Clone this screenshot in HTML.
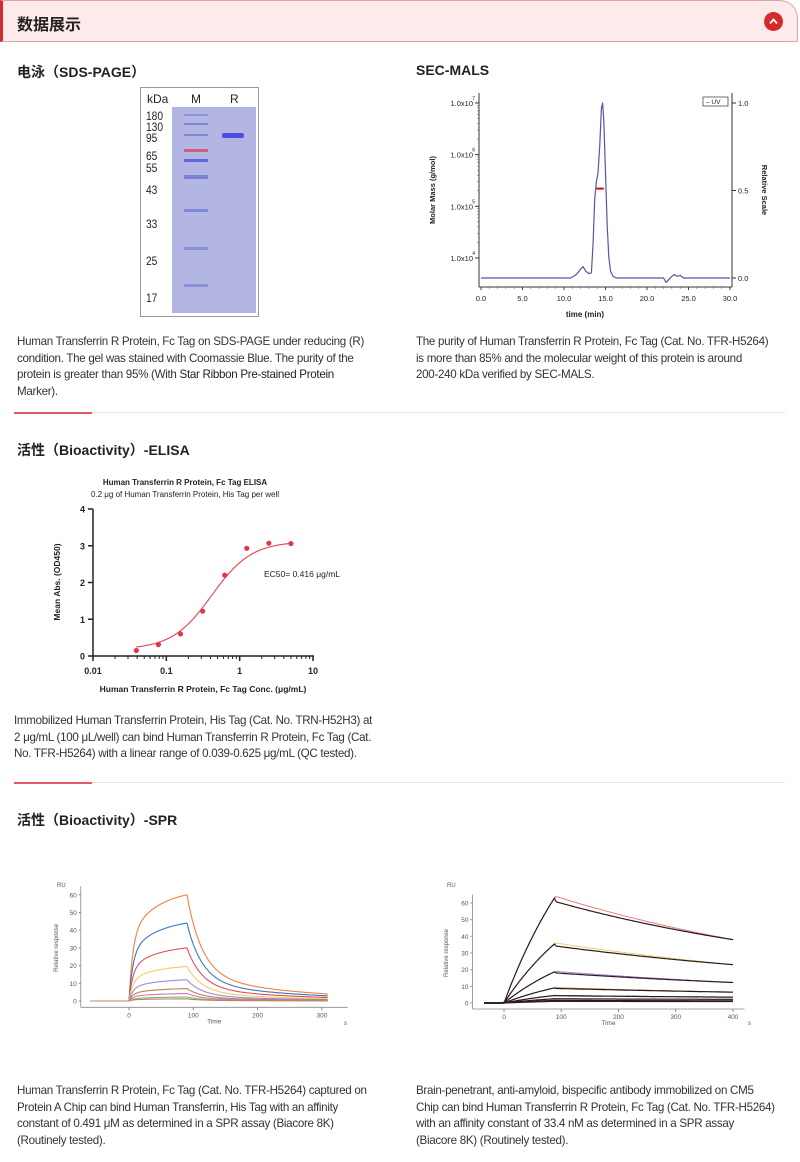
<!DOCTYPE html>
<html><head><meta charset="utf-8">
<style>
*{margin:0;padding:0;box-sizing:border-box}
body{width:800px;height:1162px;background:#fff;position:relative;overflow:hidden;font-family:"Liberation Sans","Noto Sans CJK SC",sans-serif;color:#333}
.abs{position:absolute}
.h2{position:absolute;font-size:14px;font-weight:bold;color:#222;white-space:nowrap}
.txt{position:absolute;font-size:11.6px;line-height:16.5px;color:#333;white-space:nowrap;letter-spacing:-0.3px}
.div{position:absolute;left:14px;width:771px;height:1px;background:#e4e4e4}
.div span{position:absolute;left:0;top:-0.5px;width:78px;height:2px;background:#e05a6a}
svg text{font-family:"Liberation Sans",sans-serif}
</style></head><body>

<div class="abs" style="left:0;top:0;width:798px;height:42px;background:#fdeaea;border-left:3px solid #d42c2c;border-bottom:1px solid #e3a3a3;border-right:1px solid #e3a3a3;border-top:1px solid #e3a3a3;border-top-right-radius:18px"></div>
<div class="abs" style="left:17px;top:11px;font-size:16px;font-weight:bold;color:#222">数据展示</div>
<div class="abs" style="left:764px;top:12px;width:19px;height:19px;border-radius:50%;background:#d62a2a">
<svg width="19" height="19" style="position:absolute;left:0;top:0"><polyline points="6,11.5 9.5,7.5 13,11.5" fill="none" stroke="#fff" stroke-width="1.8"/></svg></div>

<div class="h2" style="left:17px;top:62px">电泳（SDS-PAGE）</div>
<div class="h2" style="left:416px;top:62px">SEC-MALS</div>

<!-- Gel -->
<div class="abs" style="left:140px;top:87px;width:119px;height:230px;border:1px solid #999;background:#fff">
 <div class="abs" style="left:31px;top:19px;width:84px;height:206px;background:#b3b5e2"></div>
 <div class="abs" style="left:6px;top:4px;font-size:12px;color:#222">kDa</div>
 <div class="abs" style="left:50px;top:4px;font-size:12px;color:#222">M</div>
 <div class="abs" style="left:89px;top:4px;font-size:12px;color:#222">R</div>
 <div class="abs" style="left:5px;top:23px;font-size:12px;line-height:11px;color:#222;transform:scaleX(0.85);transform-origin:left">180<br>130<br>95</div>
 <div class="abs" style="left:5px;top:62px;font-size:12px;line-height:12px;color:#222;transform:scaleX(0.85);transform-origin:left">65<br>55</div>
 <div class="abs" style="left:5px;top:95px;font-size:12px;color:#222;transform:scaleX(0.85);transform-origin:left">43</div>
 <div class="abs" style="left:5px;top:129px;font-size:12px;color:#222;transform:scaleX(0.85);transform-origin:left">33</div>
 <div class="abs" style="left:5px;top:166px;font-size:12px;color:#222;transform:scaleX(0.85);transform-origin:left">25</div>
 <div class="abs" style="left:5px;top:203px;font-size:12px;color:#222;transform:scaleX(0.85);transform-origin:left">17</div>
 <div class="abs" style="left:43px;top:26px;width:24px;height:2px;background:#8f94d8"></div>
 <div class="abs" style="left:43px;top:35px;width:24px;height:2px;background:#7f85d6"></div>
 <div class="abs" style="left:43px;top:46px;width:24px;height:2px;background:#8087d8"></div>
 <div class="abs" style="left:43px;top:61px;width:24px;height:3px;background:#d0607a"></div>
 <div class="abs" style="left:43px;top:71px;width:24px;height:3px;background:#5f66d8"></div>
 <div class="abs" style="left:43px;top:87px;width:24px;height:4px;background:#7a80d8"></div>
 <div class="abs" style="left:43px;top:121px;width:24px;height:3px;background:#8087d8"></div>
 <div class="abs" style="left:43px;top:159px;width:24px;height:3px;background:#8a90d8"></div>
 <div class="abs" style="left:43px;top:196px;width:24px;height:3px;background:#8a90d8"></div>
 <div class="abs" style="left:81px;top:45px;width:22px;height:5px;border-radius:2px;background:#4a4fe0"></div>
</div>

<svg class="abs" style="left:420px;top:85px" width="360" height="240" id="sec"></svg>

<div class="txt" style="left:17px;top:334px">Human Transferrin R Protein, Fc Tag on SDS-PAGE under reducing (R)<br>condition. The gel was stained with Coomassie Blue. The purity of the<br>protein is greater than 95% (With <span style="color:#222">Star Ribbon Pre-stained Protein</span><br>Marker).</div>
<div class="txt" style="left:416px;top:334px">The purity of Human Transferrin R Protein, Fc Tag (Cat. No. TFR-H5264)<br>is more than 85% and the molecular weight of this protein is around<br>200-240 kDa verified by SEC-MALS.</div>

<div class="div" style="top:412px"><span></span></div>
<div class="h2" style="left:17px;top:440px">活性（Bioactivity）-ELISA</div>

<svg class="abs" style="left:40px;top:470px" width="320" height="230" id="elisa"></svg>

<div class="txt" style="left:14px;top:713px">Immobilized Human Transferrin Protein, His Tag (Cat. No. TRN-H52H3) at<br>2 μg/mL (100 μL/well) can bind Human Transferrin R Protein, Fc Tag (Cat.<br>No. TFR-H5264) with a linear range of 0.039-0.625 μg/mL (QC tested).</div>

<div class="div" style="top:782px"><span></span></div>
<div class="h2" style="left:17px;top:810px">活性（Bioactivity）-SPR</div>

<svg class="abs" style="left:50px;top:870px" width="310" height="165" id="spr1"></svg>
<svg class="abs" style="left:440px;top:870px" width="320" height="165" id="spr2"></svg>

<div class="txt" style="left:17px;top:1083px">Human Transferrin R Protein, Fc Tag (Cat. No. TFR-H5264) captured on<br>Protein A Chip can bind Human Transferrin, His Tag with an affinity<br>constant of 0.491 μM as determined in a SPR assay (Biacore 8K)<br>(Routinely tested).</div>
<div class="txt" style="left:416px;top:1083px">Brain-penetrant, anti-amyloid, bispecific antibody immobilized on CM5<br>Chip can bind Human Transferrin R Protein, Fc Tag (Cat. No. TFR-H5264)<br>with an affinity constant of 33.4 nM as determined in a SPR assay<br>(Biacore 8K) (Routinely tested).</div>

<script>
// ---------- SEC-MALS data ----------
const secTimes=[0,10.8,11.5,12.0,12.3,12.6,13.0,13.3,13.5,13.7,13.9,14.1,14.3,14.5,14.65,14.8,15.0,15.2,15.4,15.6,15.9,16.3,22.0,22.3,22.6,23.0,23.3,23.6,24.0,24.4,30];
const secUV=[0,0,0.02,0.05,0.065,0.04,0.025,0.03,0.2,0.45,0.55,0.6,0.75,0.97,1.0,0.9,0.6,0.3,0.12,0.04,0.01,0,0,-0.025,-0.01,0.01,0.02,0.01,0.015,0,0];
const secMassTimes=[13.9,14.8];
const secMass=[2.2e5,2.2e5];
const secXTicks=[0,5,10,15,20,25,30];
const secYRight=[0,0.5,1.0];
const secYLeftExp=[4,5,6,7];

const NS='http://www.w3.org/2000/svg';
function el(p,tag,attrs,text){const e=document.createElementNS(NS,tag);for(const k in attrs)e.setAttribute(k,attrs[k]);if(text!==undefined)e.textContent=text;p.appendChild(e);return e;}

(function(){
 const s=document.getElementById('sec');
 const x=t=>61+t*(249/30), yR=v=>193-v*175, yL=m=>173-(Math.log10(m)-4)*51.7;
 el(s,'line',{x1:59,y1:8,x2:59,y2:202,stroke:'#333','stroke-width':1});
 el(s,'line',{x1:312,y1:8,x2:312,y2:202,stroke:'#333','stroke-width':1});
 el(s,'line',{x1:59,y1:202,x2:312,y2:202,stroke:'#333','stroke-width':1});
 secXTicks.forEach(t=>{el(s,'line',{x1:x(t),y1:202,x2:x(t),y2:205,stroke:'#333'});
  const tx=el(s,'text',{x:x(t),y:216,'font-size':7.5,'text-anchor':'middle',fill:'#222'},t.toFixed(1));});
 for(let t=0;t<=30;t+=1){el(s,'line',{x1:x(t),y1:202,x2:x(t),y2:204,stroke:'#555','stroke-width':0.5});}
 secYRight.forEach(v=>{el(s,'line',{x1:312,y1:yR(v),x2:316,y2:yR(v),stroke:'#333'});
  el(s,'text',{x:318,y:yR(v)+3,'font-size':7.5,fill:'#222'},v.toFixed(1));});
 secYLeftExp.forEach(e=>{const yy=yL(Math.pow(10,e));el(s,'line',{x1:55,y1:yy,x2:59,y2:yy,stroke:'#333'});
  el(s,'text',{x:53,y:yy+3,'font-size':7.5,'text-anchor':'end',fill:'#222'},'1.0x10');
  el(s,'text',{x:55,y:yy-3,'font-size':5,'text-anchor':'end',fill:'#222'},e);});
 for(let e=4;e<7;e++)for(let k=2;k<10;k++){const yy=yL(k*Math.pow(10,e));el(s,'line',{x1:57,y1:yy,x2:59,y2:yy,stroke:'#555','stroke-width':0.5});}
 el(s,'text',{x:165,y:232,'font-size':8,'font-weight':'bold','text-anchor':'middle',fill:'#222'},'time (min)');
 el(s,'text',{x:0,y:0,'font-size':7.5,'font-weight':'bold','text-anchor':'middle',fill:'#222',transform:'translate(15,105) rotate(-90)'},'Molar Mass (g/mol)');
 el(s,'text',{x:0,y:0,'font-size':7.5,'font-weight':'bold','text-anchor':'middle',fill:'#222',transform:'translate(342,105) rotate(90)'},'Relative Scale');
 el(s,'rect',{x:283,y:12,width:25,height:9,fill:'#fff',stroke:'#333','stroke-width':0.7});
 el(s,'text',{x:286,y:19,'font-size':6.5,fill:'#222'},'– UV');
 let d=secTimes.map((t,i)=>(i?'L':'M')+x(t).toFixed(1)+' '+yR(secUV[i]).toFixed(1)).join(' ');
 const p=el(s,'path',{d:d,fill:'none',stroke:'#5555a8','stroke-width':1.2,'stroke-linejoin':'round'});
 
 const m=el(s,'line',{x1:x(secMassTimes[0]),y1:yL(secMass[0]),x2:x(secMassTimes[1]),y2:yL(secMass[1]),stroke:'#d01010','stroke-width':2});
 
})();

// ---------- ELISA data ----------
const elisaConc=[0.039,0.078,0.156,0.3125,0.625,1.25,2.5,5];
const elisaOD=[0.15,0.31,0.6,1.22,2.2,2.93,3.07,3.06];
const elisaFit={bottom:0.18,top:3.12,ec50:0.416,hill:1.6};
const elisaXTicks=[0.01,0.1,1,10];
const elisaXLabels=['0.01','0.1','1','10'];
const elisaYTicks=[0,1,2,3,4];

(function(){
 const s=document.getElementById('elisa');
 const x=c=>53+(Math.log10(c)+2)*(220/3), y=v=>186-v*36.75;
 el(s,'text',{x:145,y:15,'font-size':8,'font-weight':'bold','text-anchor':'middle',fill:'#222'},'Human Transferrin R Protein, Fc Tag ELISA');
 el(s,'text',{x:145,y:27,'font-size':8,'text-anchor':'middle',fill:'#222'},'0.2 μg of Human Transferrin Protein, His Tag per well');
 el(s,'line',{x1:53,y1:39,x2:53,y2:187,stroke:'#222','stroke-width':1.5});
 el(s,'line',{x1:52,y1:186,x2:274,y2:186,stroke:'#222','stroke-width':1.5});
 elisaYTicks.forEach(v=>{el(s,'line',{x1:48,y1:y(v),x2:53,y2:y(v),stroke:'#222','stroke-width':1.5});
  el(s,'text',{x:45,y:y(v)+3.5,'font-size':9,'font-weight':'bold','text-anchor':'end',fill:'#222'},v);});
 elisaXTicks.forEach((c,i)=>{el(s,'line',{x1:x(c),y1:186,x2:x(c),y2:191,stroke:'#222','stroke-width':1.5});
  el(s,'text',{x:x(c),y:204,'font-size':9,'font-weight':'bold','text-anchor':'middle',fill:'#222'},elisaXLabels[i]);
  if(i<3)for(let k=2;k<10;k++){el(s,'line',{x1:x(c*k),y1:186,x2:x(c*k),y2:189,stroke:'#222'});}});
 el(s,'text',{x:163,y:222,'font-size':8.5,'font-weight':'bold','text-anchor':'middle',fill:'#222'},'Human Transferrin R Protein, Fc Tag Conc. (μg/mL)');
 el(s,'text',{x:0,y:0,'font-size':8.5,'font-weight':'bold','text-anchor':'middle',fill:'#222',transform:'translate(20,112) rotate(-90)'},'Mean Abs. (OD450)');
 el(s,'text',{x:224,y:107,'font-size':8.5,fill:'#222'},'EC50= 0.416 μg/mL');
 const f=elisaFit;let pts=[];
 for(let lc=Math.log10(0.039);lc<=Math.log10(5.01);lc+=0.02){const c=Math.pow(10,lc);const v=f.bottom+(f.top-f.bottom)/(1+Math.pow(f.ec50/c,f.hill));pts.push(x(c).toFixed(1)+','+y(v).toFixed(1));}
 const pl=el(s,'polyline',{points:pts.join(' '),fill:'none',stroke:'#e05060','stroke-width':1.2});
 
 elisaConc.forEach((c,i)=>{const p=el(s,'circle',{cx:x(c),cy:y(elisaOD[i]),r:2.6,fill:'#e03848'});
  });
})();

// ---------- SPR left data ----------
const spr1Rmax=[60,44,30,19.5,12,7,4.2,2.2,1.2];
const spr1Colors=['#f08040','#3a78c0','#e05058','#f0d060','#9b8ad8','#b08848','#e070c8','#70c070','#c08060'];
const spr1XTicks=[0,100,200,300];
const spr1YTicks=[0,10,20,30,40,50,60];
// ---------- SPR right data ----------
const spr2Peak=[64,36,19,9.2,4.6,2.6,1.6,1.0];
const spr2End=[38,23,12.3,6.5,3.5,2.2,1.3,0.9];
const spr2Colors=['#e87070','#e0d060','#a080d0','#c09050','#7070d0','#50a050','#c07040','#909090'];
const spr2XTicks=[0,100,200,300,400];
const spr2YTicks=[0,10,20,30,40,50,60];

function sprAxes(s,x,y,xt,yt,xmin,xmax,ylab,rulab,slab){
 el(s,'line',{x1:x(xmin),y1:y(-3)+1,x2:x(xmin),y2:y(62)-5,stroke:'#888','stroke-width':0.8});
 el(s,'line',{x1:x(xmin),y1:y(-3)+1,x2:x(xmax),y2:y(-3)+1,stroke:'#888','stroke-width':0.8});
 yt.forEach(v=>{el(s,'line',{x1:x(xmin)-2,y1:y(v),x2:x(xmin),y2:y(v),stroke:'#888'});
  el(s,'text',{x:x(xmin)-4,y:y(v)+2.5,'font-size':6.5,'text-anchor':'end',fill:'#555'},v);});
 xt.forEach(v=>{el(s,'line',{x1:x(v),y1:y(-3)+1,x2:x(v),y2:y(-3)+4,stroke:'#888'});
  el(s,'text',{x:x(v),y:y(-3)+11,'font-size':6.5,'text-anchor':'middle',fill:'#555'},v);});
 el(s,'text',{x:rulab[0],y:rulab[1],'font-size':6,fill:'#555'},'RU');
 el(s,'text',{x:slab[0],y:slab[1],'font-size':6,fill:'#555'},'s');
 el(s,'text',{x:(x(xmin)+x(xmax))/2,y:y(-3)+17,'font-size':6.5,'text-anchor':'middle',fill:'#555'},'Time');
 el(s,'text',{x:0,y:0,'font-size':6,'text-anchor':'middle',fill:'#555',transform:'translate('+ylab+','+y(30)+') rotate(-90)'},'Relative response');
}

(function(){
 const s=document.getElementById('spr1');
 const x=t=>79+t*0.643, y=v=>131-v*1.77;
 sprAxes(s,x,y,spr1XTicks,spr1YTicks,-75,340,8,[7,17],[294,155]);
 spr1Rmax.forEach((R,i)=>{let pts=[];
  for(let t=-60;t<=310;t+=1.5){let v;
   if(t<0)v=0;else if(t<=90)v=R*(0.62*(1-Math.exp(-t/6))+0.38*(1-Math.exp(-t/45))/(1-Math.exp(-2)));
   else{const u=t-90;v=R*(0.76*Math.exp(-u/24)+0.24*Math.exp(-u/170));if(u<3)v=R*(1-0.08*u/3);}
   pts.push(x(t).toFixed(1)+','+y(v).toFixed(1));}
  const p=el(s,'polyline',{points:pts.join(' '),fill:'none',stroke:spr1Colors[i],'stroke-width':1.1});
  });
})();

(function(){
 const s=document.getElementById('spr2');
 const x=t=>64+t*0.5725, y=v=>133-v*1.667;
 sprAxes(s,x,y,spr2XTicks,spr2YTicks,-55,420,8,[7,17],[308,155]);
 spr2Peak.forEach((P,i)=>{const E=spr2End[i];
  const k=Math.log(P/E)/310;
  [spr2Colors[i],'#2a1a20'].forEach((col,j)=>{let pts=[];
   for(let t=-35;t<=400;t+=3){let v;
    if(t<0)v=0;else if(t<=90)v=P*(1-Math.exp(-t/160))/(1-Math.exp(-90/160));
    else{const u=t-90;v=(j?0.95:1)*P*Math.exp(-k*u)+(j?0.05*E*(u/310):0);}
    pts.push(x(t).toFixed(1)+','+y(v).toFixed(1));}
   const p=el(s,'polyline',{points:pts.join(' '),fill:'none',stroke:col,'stroke-width':j?1.2:0.9});
   });
 });
})();
</script>
</body></html>
